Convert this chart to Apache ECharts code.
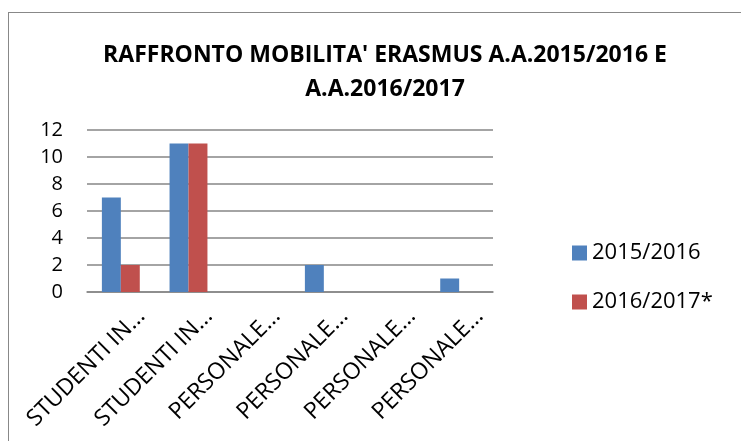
<!DOCTYPE html>
<html lang="it">
  <head>
    <meta charset="UTF-8" />
    <title>Raffronto mobilità Erasmus</title>
    <script src="https://cdn.jsdelivr.net/npm/echarts@6.0.0/dist/echarts.min.js"></script>
    <style>
      html, body { margin: 0; padding: 0; background: #fff; }
      #frame { position: absolute; left: 8px; top: 12px; width: 760px; height: 460px; border: 1px solid #888; }
      #main { position: absolute; left: 0; top: 0; width: 741px; height: 441px; }
    </style>
  </head>
  <body>
    <div id="frame"></div>
    <div id="main"></div>
    <script type="text/javascript">
      // categories and values
      const categories = ["STUDENTI IN...", "STUDENTI IN...", "PERSONALE...", "PERSONALE...", "PERSONALE...", "PERSONALE..."];
      const serie2015 = [7, 11, 0, 2, 0, 1];
      const serie2016 = [2, 11, 0, 0, 0, 0];
      const yTicks = [0, 2, 4, 6, 8, 10, 12];

      const font = "'Open Sans', 'DejaVu Sans', sans-serif";

      let myChart = echarts.init(document.getElementById("main"));

      let options = {
        animation: false,
        title: {
          text: "RAFFRONTO MOBILITA' ERASMUS A.A.2015/2016 E\nA.A.2016/2017",
          left: 380,
          textAlign: "center",
          top: 33,
          textStyle: { fontFamily: font, fontWeight: "bold", fontSize: 23, lineHeight: 34, color: "#000" }
        },
        legend: {
          orient: "vertical",
          left: 572,
          top: 242,
          padding: 0,
          itemWidth: 15,
          itemHeight: 15,
          itemGap: 27,
          icon: "rect",
          textStyle: { fontFamily: font, fontSize: 22, lineHeight: 22, color: "#000" },
          data: ["2015/2016", "2016/2017*"]
        },
        grid: { left: 87, top: 130, width: 406, height: 162, containLabel: false, outerBoundsMode: "none" },
        xAxis: {
          type: "category",
          data: categories,
          axisLine: { lineStyle: { color: "#868686", width: 1.5 } },
          axisTick: { show: false },
          axisLabel: {
            interval: 0,
            rotate: 45,
            margin: 0,
            verticalAlign: "top",
            lineHeight: 58,
            fontFamily: font,
            fontSize: 23,
            color: "#000"
          }
        },
        yAxis: {
          type: "value",
          min: yTicks[0],
          max: yTicks[yTicks.length - 1],
          interval: 2,
          axisLine: { show: false },
          axisTick: { show: false },
          splitLine: { lineStyle: { color: "#868686", width: 1.5 } },
          axisLabel: { margin: 24, fontFamily: font, fontSize: 20, color: "#000" }
        },
        series: [
          {
            name: "2015/2016",
            type: "bar",
            data: serie2015,
            barGap: "0%",
            barCategoryGap: "44%",
            itemStyle: { color: "#4F81BD" }
          },
          {
            name: "2016/2017*",
            type: "bar",
            data: serie2016,
            barGap: "0%",
            barCategoryGap: "44%",
            itemStyle: { color: "#C0504D" }
          }
        ]
      };

      myChart.setOption(options);
    </script>
  </body>
</html>
